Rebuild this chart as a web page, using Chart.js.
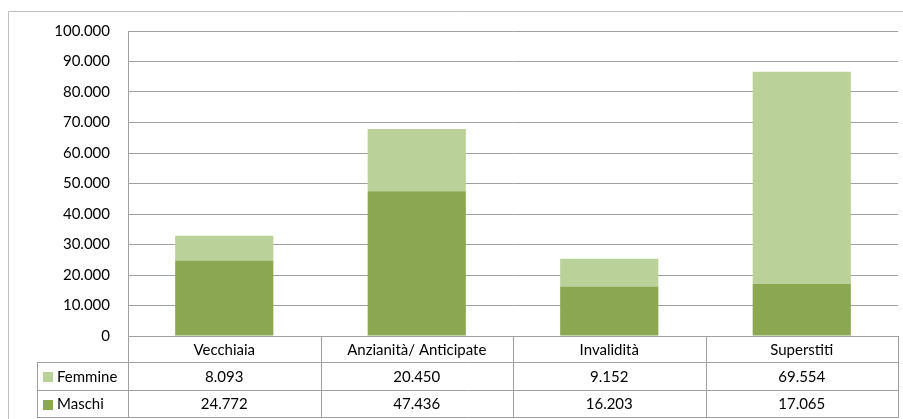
<!DOCTYPE html>
<html>
<head>
<meta charset="utf-8">
<script src="https://cdn.jsdelivr.net/npm/chart.js@4/dist/chart.umd.min.js"></script>
<style>
  html, body { margin: 0; padding: 0; background: #fff; }
  #wrap { width: 903px; height: 419px; position: relative; }
</style>
</head>
<body>
<div id="wrap"><canvas id="chart" width="903" height="419"></canvas></div>
<script>
    // Chart data
    const categories = ['Vecchiaia', 'Anzianità/ Anticipate', 'Invalidità', 'Superstiti'];
    const maschi = [24772, 47436, 16203, 17065];
    const femmine = [8093, 20450, 9152, 69554];
    const yTicks = [0, 10000, 20000, 30000, 40000, 50000, 60000, 70000, 80000, 90000, 100000];

    const FONT = 'Lato, "Open Sans", sans-serif';
    const fmt = v => v.toLocaleString('it-IT');

    // Draws the outer frame and the data table below the plot
    const tablePlugin = {
        id: 'dataTable',
        afterDraw(chart) {
            const ctx = chart.ctx;
            const x = chart.scales.x;
            const area = chart.chartArea;
            const left = area.left, right = area.right;
            const row0 = area.bottom, row1 = row0 + 26, row2 = row1 + 28, row3 = row2 + 27;
            const tableLeft = 37;
            const step = (right - left) / categories.length;

            ctx.save();
            // outer frame
            ctx.strokeStyle = '#bfbfbf';
            ctx.lineWidth = 1;
            ctx.beginPath();
            ctx.moveTo(8.5, 425);
            ctx.lineTo(8.5, 11.5);
            ctx.lineTo(910, 11.5);
            ctx.stroke();

            // table lines
            ctx.strokeStyle = '#a0a0a0';
            ctx.beginPath();
            [row1, row2, row3].forEach(y => {
                ctx.moveTo(tableLeft, Math.round(y) + 0.5);
                ctx.lineTo(right + 0.5, Math.round(y) + 0.5);
            });
            for (let i = 0; i <= categories.length; i++) {
                const xx = Math.round(left + i * step) + 0.5;
                ctx.moveTo(xx, row0);
                ctx.lineTo(xx, row3 + 0.5);
            }
            ctx.moveTo(tableLeft + 0.5, row1);
            ctx.lineTo(tableLeft + 0.5, row3 + 0.5);
            ctx.stroke();

            // texts
            ctx.fillStyle = '#000';
            ctx.font = '15px ' + FONT;
            ctx.textBaseline = 'middle';
            ctx.textAlign = 'center';
            categories.forEach((c, i) => {
                const cx = x.getPixelForValue(i);
                ctx.fillText(c, cx, (row0 + row1) / 2 + 1);
                ctx.fillText(fmt(femmine[i]), cx, (row1 + row2) / 2 + 1);
                ctx.fillText(fmt(maschi[i]), cx, (row2 + row3) / 2 + 1);
            });

            // legend keys
            const rows = [
                { label: 'Femmine', color: '#bbd19a', y: (row1 + row2) / 2 },
                { label: 'Maschi', color: '#8ba752', y: (row2 + row3) / 2 }
            ];
            ctx.textAlign = 'left';
            rows.forEach(r => {
                ctx.fillStyle = r.color;
                ctx.fillRect(43, Math.round(r.y) - 4, 10, 10);
                ctx.fillStyle = '#000';
                ctx.fillText(r.label, 57, r.y + 1);
            });
            ctx.restore();
        }
    };

    const ctx = document.getElementById('chart').getContext('2d');
    const chart = new Chart(ctx, {
        type: 'bar',
        data: {
            labels: categories,
            datasets: [
                {
                    label: 'Maschi',
                    data: maschi,
                    backgroundColor: '#8ba752',
                    borderWidth: 0,
                    barPercentage: 0.51,
                    categoryPercentage: 1
                },
                {
                    label: 'Femmine',
                    data: femmine,
                    backgroundColor: '#bbd19a',
                    borderWidth: 0,
                    barPercentage: 0.51,
                    categoryPercentage: 1
                }
            ]
        },
        options: {
            responsive: false,
            animation: false,
            layout: {
                padding: { left: 0, top: 31, right: 5, bottom: 83 }
            },
            plugins: {
                legend: { display: false },
                title: { display: false },
                tooltip: { enabled: false }
            },
            scales: {
                x: {
                    stacked: true,
                    display: false
                },
                y: {
                    stacked: true,
                    min: 0,
                    max: 100000,
                    afterFit(scale) { scale.width = 128; },
                    afterBuildTicks(scale) { scale.ticks = yTicks.map(v => ({ value: v })); },
                    ticks: {
                        padding: 18,
                        color: '#000',
                        font: { family: FONT, size: 15 },
                        callback: v => fmt(v)
                    },
                    grid: {
                        color: '#a0a0a0',
                        drawTicks: false,
                        tickLength: 0
                    },
                    border: { display: true, color: '#a0a0a0' }
                }
            }
        },
        plugins: [tablePlugin]
    });
</script>
</body>
</html>
